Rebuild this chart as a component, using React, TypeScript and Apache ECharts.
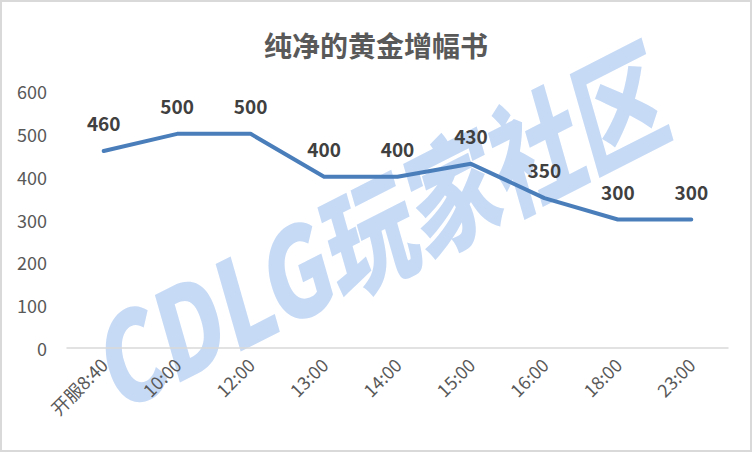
import React, { useEffect, useRef } from "react";
import * as echarts from "echarts";

const title = "纯净的黄金增幅书";
const categories = ["开服8:40", "10:00", "12:00", "13:00", "14:00", "15:00", "16:00", "18:00", "23:00"];
const values = [460, 500, 500, 400, 400, 430, 350, 300, 300];
const watermark = "CDLG玩家社区";

const FONT = "'Noto Sans CJK SC', 'Noto Sans', sans-serif";

export default function App() {
  const ref = useRef<HTMLDivElement>(null);
  useEffect(() => {
    document.body.style.margin = "0";
    const chart = echarts.init(ref.current!, null, { renderer: "svg" });
    chart.setOption({
      animation: false,
      backgroundColor: "#ffffff",
      title: {
        text: title,
        left: "center",
        top: 26,
        textStyle: { fontFamily: FONT, fontSize: 28, fontWeight: "bold", color: "#595959" },
      },
      graphic: [
        {
          type: "rect",
          z: -20,
          shape: { x: 1, y: 1, width: 750, height: 450 },
          style: { fill: "none", stroke: "#d9d9d9", lineWidth: 2 },
        },
        {
          type: "text",
          z: -10,
          x: 372,
          y: 226,
          rotation: (27 * Math.PI) / 180,
          scaleX: 0.78,
          style: {
            text: watermark,
            fontFamily: FONT,
            fontSize: 120,
            fontWeight: 900,
            fontStyle: "italic",
            fill: "#c6daf6",
            align: "center",
            verticalAlign: "middle",
          },
        },
      ],
      grid: { left: 67, right: 24, top: 91, bottom: 104, containLabel: false },
      xAxis: {
        type: "category",
        data: categories,
        boundaryGap: true,
        axisLine: { show: true, lineStyle: { color: "#d9d9d9", width: 1.5 } },
        axisTick: { show: false },
        axisLabel: {
          rotate: 45,
          fontFamily: FONT,
          fontSize: 18,
          color: "#595959",
          margin: 13,
          interval: 0,
        },
        splitLine: { show: false },
      },
      yAxis: {
        type: "value",
        min: 0,
        max: 600,
        interval: 100,
        axisLine: { show: false },
        axisTick: { show: false },
        splitLine: { show: false },
        axisLabel: { fontFamily: FONT, fontSize: 18, color: "#595959", margin: 20 },
      },
      series: [
        {
          type: "line",
          data: values,
          showSymbol: true,
          symbol: "circle",
          symbolSize: 2,
          itemStyle: { color: "rgba(0,0,0,0)" },
          lineStyle: { color: "#4a7ebb", width: 4, cap: "round", join: "round" },
          label: {
            show: true,
            position: "top",
            distance: 18,
            fontFamily: FONT,
            fontSize: 19,
            fontWeight: "bold",
            color: "#404040",
          },
          emphasis: { disabled: true },
        },
      ],
    });
    return () => chart.dispose();
  }, []);
  return <div ref={ref} style={{ width: 752, height: 452 }} />;
}
